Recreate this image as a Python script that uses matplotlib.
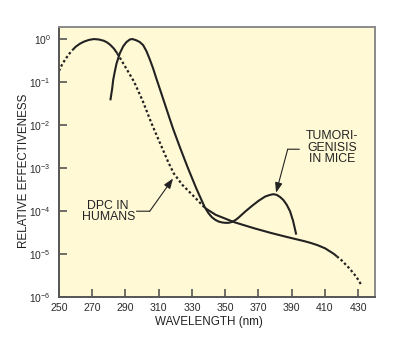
import numpy as np
import matplotlib
matplotlib.use("Agg")
import matplotlib.pyplot as plt
from matplotlib.ticker import FixedLocator, LogFormatterSciNotation

plt.rcParams['font.family'] = ['Liberation Sans', 'DejaVu Sans']
plt.rcParams['mathtext.fontset'] = 'custom'
plt.rcParams['mathtext.rm'] = 'Liberation Sans'
plt.rcParams['mathtext.default'] = 'regular'

# DPC in humans: wavelength (nm), log10 relative effectiveness
dpc_nm = [250, 252, 254, 256, 258, 260, 262.5, 265, 268, 271, 274, 277, 279,
          281, 283, 285, 288, 291, 295, 300, 305, 310, 315, 319, 324, 329, 334,
          338, 344, 350, 355, 365, 375, 385, 395, 400, 405, 410, 415, 420, 425,
          429, 432]
dpc_log = [-0.74, -0.58, -0.46, -0.35, -0.26, -0.18, -0.11, -0.06, -0.02, 0.0,
           -0.01, -0.04, -0.08, -0.14, -0.22, -0.33, -0.52, -0.72, -0.98, -1.40,
           -1.90, -2.35, -2.80, -3.12, -3.38, -3.57, -3.77, -3.93, -4.08, -4.17,
           -4.25, -4.37, -4.48, -4.58, -4.67, -4.72, -4.78, -4.86, -4.98, -5.14,
           -5.34, -5.53, -5.72]

# Tumorigenesis in mice
mice_nm = [281, 282, 282.6, 283.6, 284.6, 286.6, 288.6, 290.6, 292.6, 294.2,
           296.6, 298.6, 300.6, 302.6, 304.6, 306.6, 308.6, 310.6, 313.6, 316.6,
           318.6, 322.6, 327.6, 332.6, 337.6, 340, 342, 344, 346, 348, 350, 352,
           354, 356, 358, 362, 366, 370, 374, 377, 379, 381, 383, 385, 387, 389,
           390.8, 392.6]
mice_log = [-1.40, -1.15, -0.95, -0.75, -0.57, -0.33, -0.17, -0.07, -0.01, 0.0,
            -0.03, -0.07, -0.14, -0.28, -0.47, -0.68, -0.92, -1.15, -1.50, -1.85,
            -2.08, -2.50, -3.00, -3.47, -3.90, -4.05, -4.14, -4.20, -4.24, -4.26,
            -4.27, -4.27, -4.25, -4.21, -4.15, -4.01, -3.88, -3.76, -3.66, -3.62,
            -3.605, -3.62, -3.67, -3.74, -3.85, -4.00, -4.22, -4.52]

x_ticks = [250, 270, 290, 310, 330, 350, 370, 390, 410, 430]
y_ticks = [1e-6, 1e-5, 1e-4, 1e-3, 1e-2, 1e-1, 1e0]

# segments of the DPC curve that are drawn dotted (nm ranges)
dpc_dotted = [(250, 258), (285, 338), (417, 432)]

ink = '#222222'
fig = plt.figure(figsize=(4.0, 3.44), dpi=100)
ax = fig.add_axes([0.1475, 0.1358, 0.937 - 0.1475, 0.9215 - 0.1358])
ax.set_facecolor('#FFF9D6')

dn = np.array(dpc_nm, float)
dl = np.array(dpc_log, float)
xs = np.linspace(dn[0], dn[-1], 800)
ys = 10 ** np.interp(xs, dn, dl)
dotted_mask = np.zeros_like(xs, bool)
for a, b in dpc_dotted:
    dotted_mask |= (xs >= a) & (xs <= b)


def runs(mask):
    idx = np.where(mask)[0]
    if len(idx) == 0:
        return []
    return np.split(idx, np.where(np.diff(idx) > 1)[0] + 1)


for g in runs(~dotted_mask):
    lo, hi = max(g[0] - 1, 0), min(g[-1] + 2, len(xs))
    ax.plot(xs[lo:hi], ys[lo:hi], color=ink, lw=1.5, solid_capstyle='butt')
for g in runs(dotted_mask):
    ax.plot(xs[g[0]:g[-1] + 1], ys[g[0]:g[-1] + 1], color=ink, lw=1.6,
            linestyle=(0, (1.1, 1.1)), dash_capstyle='butt')

ax.plot(mice_nm, 10 ** np.array(mice_log), color=ink, lw=1.5)

ax.set_yscale('log')
ax.set_xlim(250, 440)
ax.set_ylim(1e-6, 10 ** 0.28)
ax.xaxis.set_major_locator(FixedLocator(x_ticks))
ax.yaxis.set_major_locator(FixedLocator(y_ticks))
ax.yaxis.set_minor_locator(FixedLocator([]))
ax.yaxis.set_major_formatter(LogFormatterSciNotation())
ax.tick_params(axis='x', direction='in', length=6, width=1.2, color='#555555',
               labelsize=7.6, labelcolor='#2a2a2a', pad=4)
ax.tick_params(axis='y', direction='in', length=5.5, width=1.2, color='#555555',
               labelsize=7.4, labelcolor='#2a2a2a', pad=6)

for s in ['left', 'bottom']:
    ax.spines[s].set_color('#555555')
    ax.spines[s].set_linewidth(1.4)
for s in ['top', 'right']:
    ax.spines[s].set_color('#8a8a8a')
    ax.spines[s].set_linewidth(1.4)

ax.set_xlabel('WAVELENGTH (nm)', fontsize=8.4, color=ink)
ax.xaxis.set_label_coords(0.475, -0.07)
ax.set_ylabel('RELATIVE EFFECTIVENESS', fontsize=8.4, color=ink)
ax.yaxis.set_label_coords(-0.093, 0.467)

# Annotations
ax.text(414.4, 10 ** -2.53, 'TUMORI-\nGENISIS\nIN MICE', ha='center', va='center',
        fontsize=8.8, color=ink, linespacing=0.95)
ax.annotate('', xy=(387.6, 10 ** -2.56), xytext=(394.6, 10 ** -2.56),
            arrowprops=dict(arrowstyle='-', color=ink, lw=0.8, shrinkA=0, shrinkB=0))
ax.annotate('', xy=(380.6, 10 ** -3.57), xytext=(387.6, 10 ** -2.56),
            arrowprops=dict(arrowstyle='-|>,head_length=0.6,head_width=0.22',
                            color=ink, lw=0.8, shrinkA=0, shrinkB=0))

ax.text(279.6, 10 ** -4.01, 'DPC IN\nHUMANS', ha='center', va='center',
        fontsize=8.8, color=ink, linespacing=0.95)
ax.annotate('', xy=(304.6, 10 ** -4.0), xytext=(296.6, 10 ** -4.0),
            arrowprops=dict(arrowstyle='-', color=ink, lw=0.8, shrinkA=0, shrinkB=0))
ax.annotate('', xy=(318.6, 10 ** -3.24), xytext=(304.6, 10 ** -4.0),
            arrowprops=dict(arrowstyle='-|>,head_length=0.6,head_width=0.22',
                            color=ink, lw=0.8, shrinkA=0, shrinkB=0))

fig.savefig('out.png', dpi=100, facecolor='white')
